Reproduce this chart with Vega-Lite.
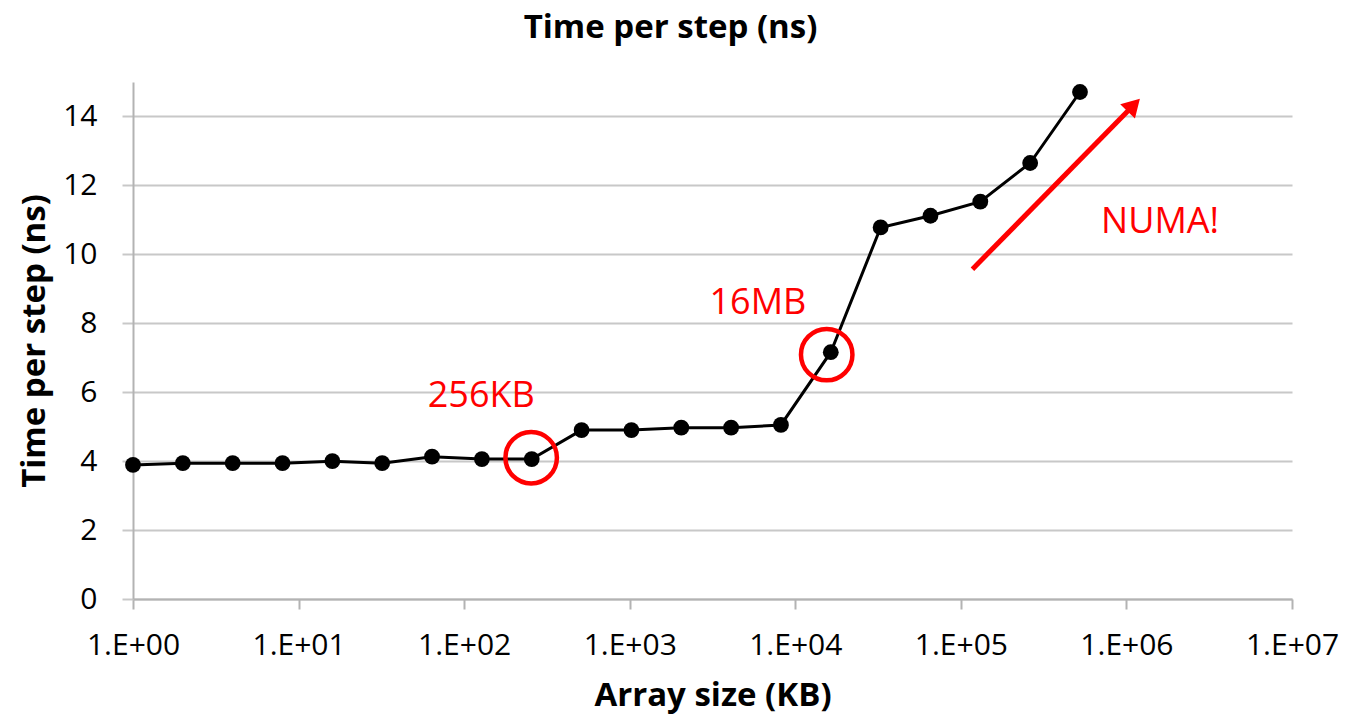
{
  "$schema": "https://vega.github.io/schema/vega-lite/v6.json",
  "width": 1159,
  "height": 517,
  "autosize": {"type": "none"},
  "padding": {"left": 133, "top": 82, "right": 60, "bottom": 119},
  "background": "white",
  "title": {
    "text": "Time per step (ns)",
    "font": "Open Sans",
    "fontSize": 33,
    "fontWeight": "bold",
    "color": "#000000",
    "anchor": "middle",
    "frame": "group",
    "dx": -42,
    "baseline": "alphabetic",
    "offset": 11
  },
  "datasets": {
    "series": [
      {"size_kb": 1, "time_ns": 3.89},
      {"size_kb": 2, "time_ns": 3.94},
      {"size_kb": 4, "time_ns": 3.94},
      {"size_kb": 8, "time_ns": 3.94},
      {"size_kb": 16, "time_ns": 4.0},
      {"size_kb": 32, "time_ns": 3.94},
      {"size_kb": 64, "time_ns": 4.13},
      {"size_kb": 128, "time_ns": 4.06},
      {"size_kb": 256, "time_ns": 4.06},
      {"size_kb": 512, "time_ns": 4.9},
      {"size_kb": 1024, "time_ns": 4.9},
      {"size_kb": 2048, "time_ns": 4.97},
      {"size_kb": 4096, "time_ns": 4.97},
      {"size_kb": 8192, "time_ns": 5.05},
      {"size_kb": 16384, "time_ns": 7.16},
      {"size_kb": 32768, "time_ns": 10.78},
      {"size_kb": 65536, "time_ns": 11.12},
      {"size_kb": 131072, "time_ns": 11.53},
      {"size_kb": 262144, "time_ns": 12.65},
      {"size_kb": 524288, "time_ns": 14.71}
    ],
    "circles": [
      {"size_kb": 254, "time_ns": 4.1},
      {"size_kb": 15480, "time_ns": 7.09}
    ],
    "labels": [
      {"size_kb": 126.9, "time_ns": 5.58, "label": "256KB"},
      {"size_kb": 5945, "time_ns": 8.27, "label": "16MB"},
      {"size_kb": 1596000, "time_ns": 10.61, "label": "NUMA!"}
    ],
    "arrow": [
      {"size_kb": 117490, "time_ns": 9.57, "end_kb": 1107000, "end_ns": 14.33}
    ],
    "arrowhead": [
      {"size_kb": 1107000, "time_ns": 14.33}
    ]
  },
  "layer": [
    {
      "data": {"name": "series"},
      "mark": {"type": "line", "color": "#000000", "strokeWidth": 3},
      "encoding": {
        "x": {
          "field": "size_kb",
          "type": "quantitative",
          "scale": {"type": "log", "domain": [1, 10000000]},
          "axis": {
            "title": "Array size (KB)",
            "values": [1, 10, 100, 1000, 10000, 100000, 1000000, 10000000],
            "labelExpr": "'1.E+0' + round(log(datum.value) / LN10)",
            "grid": false,
            "domainColor": "#b3b3b3",
            "domainWidth": 2,
            "tickColor": "#b3b3b3",
            "tickWidth": 2,
            "tickSize": 10,
            "labelFont": "Open Sans",
            "labelFontSize": 30,
            "labelColor": "#000000",
            "labelPadding": 21,
            "labelFlush": false,
            "labelOverlap": false,
            "titleFont": "Open Sans",
            "titleFontSize": 33,
            "titleFontWeight": "bold",
            "titleColor": "#000000",
            "titlePadding": 19
          }
        },
        "y": {
          "field": "time_ns",
          "type": "quantitative",
          "scale": {"domain": [0, 15], "nice": false},
          "axis": {
            "title": "Time per step (ns)",
            "values": [0, 2, 4, 6, 8, 10, 12, 14],
            "grid": true,
            "gridColor": "#c8c8c8",
            "gridWidth": 2,
            "domainColor": "#b3b3b3",
            "domainWidth": 2,
            "tickColor": "#c8c8c8",
            "tickWidth": 2,
            "tickSize": 11,
            "labelFont": "Open Sans",
            "labelFontSize": 30,
            "labelColor": "#000000",
            "labelPadding": 25,
            "labelOverlap": false,
            "titleFont": "Open Sans",
            "titleFontSize": 33,
            "titleFontWeight": "bold",
            "titleColor": "#000000",
            "titlePadding": 11
          }
        }
      }
    },
    {
      "data": {"name": "series"},
      "mark": {"type": "point", "filled": true, "color": "#000000", "opacity": 1, "size": 250},
      "encoding": {
        "x": {"field": "size_kb", "type": "quantitative"},
        "y": {"field": "time_ns", "type": "quantitative"}
      }
    },
    {
      "data": {"name": "circles"},
      "mark": {"type": "point", "shape": "circle", "filled": false, "stroke": "#ff0000", "strokeWidth": 4.5, "opacity": 1, "size": 2650},
      "encoding": {
        "x": {"field": "size_kb", "type": "quantitative"},
        "y": {"field": "time_ns", "type": "quantitative"}
      }
    },
    {
      "data": {"name": "labels"},
      "mark": {"type": "text", "font": "Open Sans", "fontSize": 36, "color": "#ff0000", "align": "center", "baseline": "alphabetic"},
      "encoding": {
        "x": {"field": "size_kb", "type": "quantitative"},
        "y": {"field": "time_ns", "type": "quantitative"},
        "text": {"field": "label", "type": "nominal"}
      }
    },
    {
      "data": {"name": "arrow"},
      "mark": {"type": "rule", "color": "#ff0000", "strokeWidth": 5},
      "encoding": {
        "x": {"field": "size_kb", "type": "quantitative"},
        "y": {"field": "time_ns", "type": "quantitative"},
        "x2": {"field": "end_kb"},
        "y2": {"field": "end_ns"}
      }
    },
    {
      "data": {"name": "arrowhead"},
      "mark": {"type": "point", "shape": "triangle-up", "filled": true, "color": "#ff0000", "opacity": 1, "size": 420, "angle": 44},
      "encoding": {
        "x": {"field": "size_kb", "type": "quantitative"},
        "y": {"field": "time_ns", "type": "quantitative"}
      }
    }
  ],
  "config": {"view": {"stroke": null}}
}
